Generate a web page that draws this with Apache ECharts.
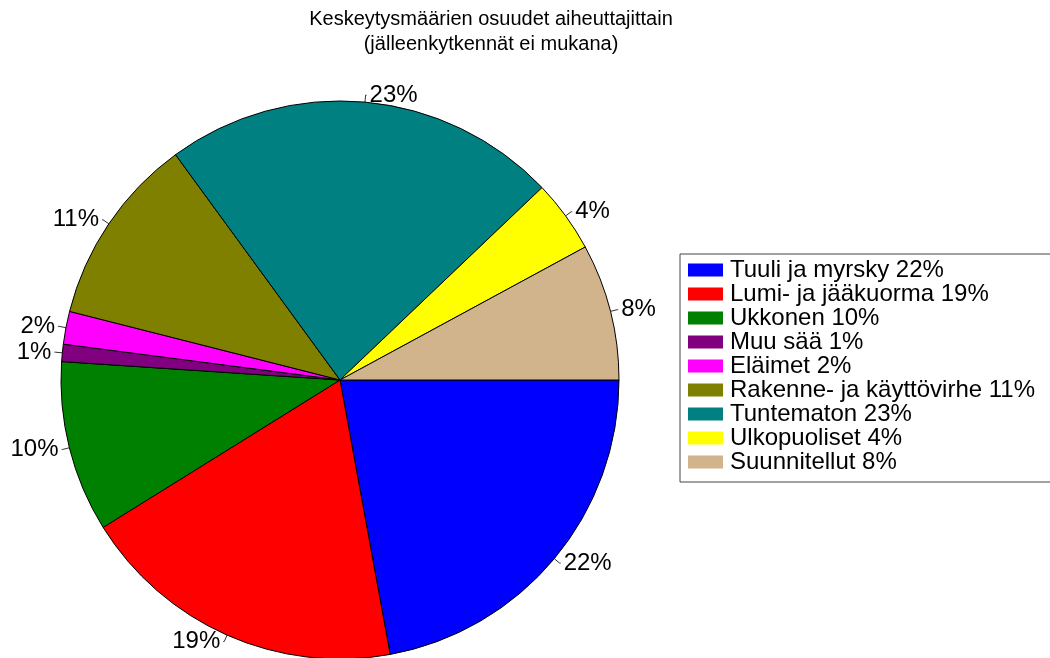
<!DOCTYPE html>
<html>
<head>
<meta charset="utf-8">
<script src="https://cdn.jsdelivr.net/npm/echarts@6/dist/echarts.min.js"></script>
<style>
html,body{margin:0;padding:0;background:#fff;}
#chart{width:1050px;height:658px;}
</style>
</head>
<body>
<div id="chart"></div>
<script>
const categories = ["Tuuli ja myrsky", "Lumi- ja jääkuorma", "Ukkonen", "Muu sää", "Eläimet", "Rakenne- ja käyttövirhe", "Tuntematon", "Ulkopuoliset", "Suunnitellut"];
const values = [22.1, 19.0, 9.9, 1.0, 1.9, 11.0, 22.9, 4.2, 7.9];
const colors = ["#0000FF", "#FF0000", "#008000", "#800080", "#FF00FF", "#808000", "#008080", "#FFFF00", "#D2B48C"];
const titleLines = ["Keskeytysmäärien osuudet aiheuttajittain", "(jälleenkytkennät ei mukana)"];

const total = values.reduce((a, b) => a + b, 0);
const pct = v => Math.round(v / total * 100) + "%";
const pctByName = {};
categories.forEach((c, i) => { pctByName[c] = pct(values[i]); });

const chart = echarts.init(document.getElementById('chart'), null, {renderer: 'canvas'});
const font = "'Liberation Sans', Arial, sans-serif";
chart.setOption({
  animation: false,
  backgroundColor: '#fff',
  title: {
    text: titleLines.join('\n'),
    left: 491, top: 7, textAlign: 'center', padding: 0,
    textStyle: {fontFamily: font, fontSize: 20, fontWeight: 'normal', color: '#000', lineHeight: 25}
  },
  legend: {
    orient: 'vertical',
    left: 680, top: 254,
    padding: [4, 20, 8, 8],
    borderColor: '#444', borderWidth: 1,
    itemWidth: 35, itemHeight: 13, itemGap: 0,
    icon: 'rect',
    itemStyle: {borderWidth: 0},
    data: categories,
    formatter: name => name + ' ' + pctByName[name],
    textStyle: {fontFamily: font, fontSize: 24, color: '#000', lineHeight: 23.75, padding: [0, 0, 0, 2]}
  },
  series: [{
    type: 'pie',
    center: [340, 380],
    radius: 279,
    startAngle: 0,
    clockwise: true,
    avoidLabelOverlap: false,
    itemStyle: {borderColor: '#000', borderWidth: 1},
    label: {
      show: true, position: 'outside',
      formatter: p => pct(p.value),
      fontFamily: font, fontSize: 24, color: '#000', distanceToLabelLine: 3
    },
    labelLine: {show: true, length: 7, length2: 1, lineStyle: {color: '#333', width: 1}},
    emphasis: {disabled: true},
    data: categories.map((c, i) => ({name: c, value: values[i], itemStyle: {color: colors[i]}}))
  }]
});
</script>
</body>
</html>
